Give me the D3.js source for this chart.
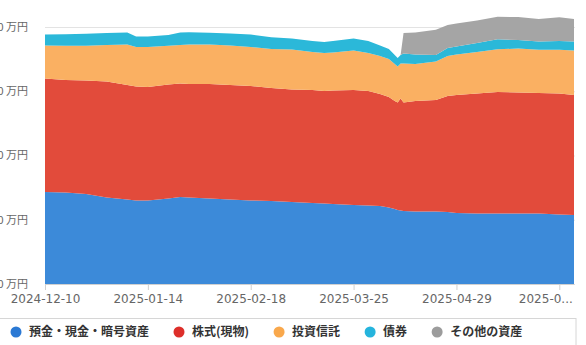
<!DOCTYPE html>
<html>
<head>
<meta charset="utf-8">
<script src="https://cdn.jsdelivr.net/npm/d3@7"></script>
<style>
  html, body { margin: 0; padding: 0; background: #fff; overflow: hidden; }
  svg { display: block; font-family: "Noto Sans CJK JP", "Noto Sans", sans-serif; }
</style>
</head>
<body>
<svg id="chart" width="586" height="345"></svg>
<script>
// Asset breakdown over time (万円)
const dates = [
  "2024-12-10","2024-12-17","2024-12-24","2024-12-31","2025-01-07","2025-01-10",
  "2025-01-14","2025-01-21","2025-01-25","2025-01-28","2025-02-04","2025-02-11",
  "2025-02-18","2025-02-25","2025-03-04","2025-03-11","2025-03-15","2025-03-18",
  "2025-03-25","2025-03-30","2025-04-03","2025-04-06","2025-04-08","2025-04-09",
  "2025-04-10","2025-04-11","2025-04-15","2025-04-22","2025-04-26","2025-04-29",
  "2025-05-06","2025-05-13","2025-05-20","2025-05-27","2025-06-03","2025-06-08"
];
const deposits = [716,712,700,673,658,650,650,665,677,673,665,658,650,646,638,630,626,623,615,611,607,595,584,576,572,568,564,564,560,553,549,549,549,549,541,537];
const stocks   = [883,875,883,903,891,887,883,887,883,883,891,891,891,879,875,879,875,883,895,891,872,860,840,837,872,844,860,868,903,918,934,946,942,938,942,934];
const funds    = [257,268,272,284,315,307,311,303,300,307,307,307,303,303,311,296,296,296,307,296,296,296,288,280,272,303,288,300,311,315,323,331,342,335,339,346];
const bonds    = [86,89,93,93,93,82,82,82,97,97,93,93,97,93,86,86,86,89,93,93,82,78,70,66,66,78,74,51,62,62,70,78,66,66,70,70];
const others   = [0,0,0,0,0,0,0,0,0,0,0,0,0,0,0,0,0,0,0,0,0,0,0,0,0,160,171,195,179,179,175,175,179,175,183,175];

const seriesNames  = ["預金・現金・暗号資産","株式(現物)","投資信託","債券","その他の資産"];
const areaColors   = ["#3c8ad9","#e24b3b","#fab062","#2bb8d9","#a5a5a5"];
const legendColors = ["#2b79d4","#dd2f2a","#f9a84c","#25b4dd","#9c9c9c"];
const xTickDates   = ["2024-12-10","2025-01-14","2025-02-18","2025-03-25","2025-04-29","2025-06-03"];
const yTickValues  = [0,500,1000,1500,2000];

const parse = d3.timeParse("%Y-%m-%d");
const keys = ["deposits","stocks","funds","bonds","others"];
const cols = [deposits, stocks, funds, bonds, others];
const rows = dates.map((d, i) => {
  const r = { date: parse(d) };
  keys.forEach((k, j) => r[k] = cols[j][i]);
  return r;
});

const svg = d3.select("#chart");
const plot = { left: 45, right: 574, top: 27, bottom: 284 };

const x = d3.scaleTime()
  .domain([parse(dates[0]), parse(dates[dates.length - 1])])
  .range([plot.left, plot.right]);
const y = d3.scaleLinear().domain([0, 2000]).range([plot.bottom, plot.top]);

// horizontal grid
svg.append("g")
  .selectAll("line")
  .data(yTickValues)
  .join("line")
  .attr("x1", plot.left).attr("x2", plot.right + 1)
  .attr("y1", d => y(d) + 0.5).attr("y2", d => y(d) + 0.5)
  .attr("stroke", "#e3e3e3");

// y labels
svg.append("g")
  .selectAll("text")
  .data(yTickValues)
  .join("text")
  .attr("x", 28).attr("y", d => y(d))
  .attr("dy", "0.35em")
  .attr("text-anchor", "end")
  .attr("font-size", 11)
  .attr("fill", "#666")
  .text(d => d3.format(",")(d) + " 万円");

// stacked areas
const stack = d3.stack().keys(keys);
const layers = stack(rows);
const area = d3.area()
  .x(d => x(d.data.date))
  .y0(d => y(d[0]))
  .y1(d => y(d[1]))
  .curve(d3.curveLinear);

svg.append("g")
  .selectAll("path")
  .data(layers)
  .join("path")
  .attr("fill", (d, i) => areaColors[i])
  .attr("d", area);

// x axis
const xAxis = d3.axisBottom(x)
  .tickValues(xTickDates.map(parse))
  .tickSize(6)
  .tickSizeOuter(0)
  .tickFormat(d3.timeFormat("%Y-%m-%d"));

const gx = svg.append("g")
  .attr("transform", `translate(0,${plot.bottom})`)
  .call(xAxis);
gx.select(".domain").attr("stroke", "#d0d0d0");
gx.selectAll(".tick line").attr("stroke", "#d0d0d0");
gx.selectAll(".tick text")
  .attr("fill", "#666")
  .attr("font-size", 12)
  .attr("font-family", "DejaVu Sans, sans-serif")
  .attr("dy", "0.85em");
// last label is cut with an ellipsis and kept inside the plot edge
const lastTick = gx.selectAll(".tick text").filter((d, i, n) => i === n.length - 1);
lastTick.text("2025-0...").attr("text-anchor", "end").attr("dx", 13);

// legend
const lg = svg.append("g");
lg.append("rect")
  .attr("x", -2).attr("y", 318.5)
  .attr("width", 578).attr("height", 40)
  .attr("fill", "#fff")
  .attr("stroke", "#d6d6d6");

let cx = 16;
seriesNames.forEach((name, i) => {
  lg.append("circle")
    .attr("cx", cx).attr("cy", 332)
    .attr("r", 5.5)
    .attr("fill", legendColors[i]);
  const t = lg.append("text")
    .attr("x", cx + 13).attr("y", 332)
    .attr("dy", "0.36em")
    .attr("font-size", 12)
    .attr("font-weight", "bold")
    .attr("fill", "#333")
    .text(name);
  cx = cx + 13 + t.node().getComputedTextLength() + 30;
});
</script>
</body>
</html>
